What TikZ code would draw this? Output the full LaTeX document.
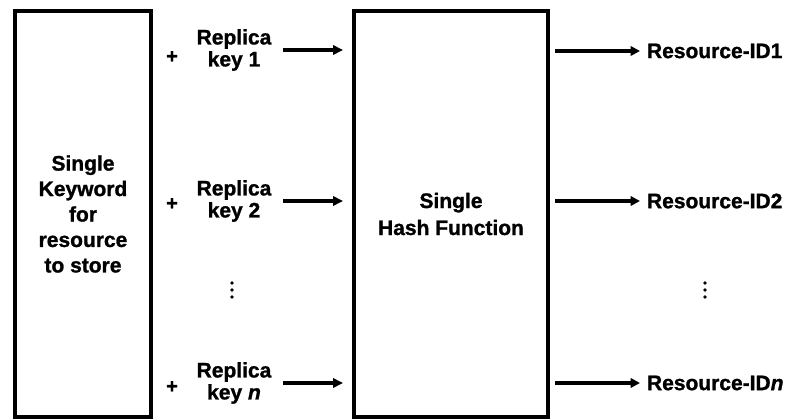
\documentclass[tikz,border=0pt]{standalone}
\usepackage{fontspec}
\setmainfont{Liberation Sans}[BoldFeatures={FakeBold=1.2},BoldItalicFeatures={FakeBold=1.2}]
\usetikzlibrary{arrows.meta}
\begin{document}
\begin{tikzpicture}[x=0.75pt,y=-0.75pt,
  every node/.style={font=\bfseries\fontsize{15.75}{16.5}\selectfont, inner sep=0pt, outer sep=0pt},
  block/.style={draw, line width=3pt, align=center},
  keylabel/.style={align=center},
  plus/.style={font=\bfseries\fontsize{15}{15}\selectfont},
  inarrow/.style={line width=3pt, -{Triangle[length=7.5pt,width=7pt]}},
  outarrow/.style={line width=2.5pt, -{Triangle[length=7pt,width=7pt]}},
  vdot/.style={fill=black}]
\useasboundingbox (0,0) rectangle (791,420);

% the two big blocks
\node[block, minimum width=102pt, minimum height=304.5pt,
      font=\bfseries\fontsize{15.75}{19.1}\selectfont]
      (kw) at (83,214) {Single\\Keyword\\for\\resource\\to store};
\node[block, minimum width=145.5pt, minimum height=304.5pt,
      font=\bfseries\fontsize{15.75}{20.25}\selectfont]
      (hash) at (451,214) {Single\\Hash Function};

% replica keys
\node[plus] (p1) at (172,57) {+};
\node[plus] (p2) at (172,204) {+};
\node[plus] (pn) at (172,387) {+};
\node[keylabel] (rep1) at (234,50) {Replica\\key 1};
\node[keylabel] (rep2) at (234,201) {Replica\\key 2};
\node[keylabel] (repn) at (234,383) {Replica\\key \textit{n}};

\draw[inarrow, shorten <=8.6pt, shorten >=8.25pt] (rep1.east) -- (rep1.east -| hash.west);
\draw[inarrow, shorten <=8.6pt, shorten >=8.25pt] (rep2.east) -- (rep2.east -| hash.west);
\draw[inarrow, shorten <=8.6pt, shorten >=8.25pt] (repn.east) -- (repn.east -| hash.west);

% resulting resource IDs
\node[anchor=west] (id1) at (647,51) {Resource-ID1};
\node[anchor=west] (id2) at (647,201) {Resource-ID2};
\node[anchor=west] (idn) at (647,383) {Resource-ID\textit{n}};

\draw[outarrow, shorten <=5.25pt, shorten >=5.25pt] (id1.west -| hash.east) -- (id1.west);
\draw[outarrow, shorten <=5.25pt, shorten >=5.25pt] (id2.west -| hash.east) -- (id2.west);
\draw[outarrow, shorten <=5.25pt, shorten >=5.25pt] (idn.west -| hash.east) -- (idn.west);

% vertical ellipses
\foreach \y in {283,290,297} {
  \fill[vdot] (232,\y) circle (1.4pt);
  \fill[vdot] (705,\y) circle (1.4pt);
}
\end{tikzpicture}
\end{document}
